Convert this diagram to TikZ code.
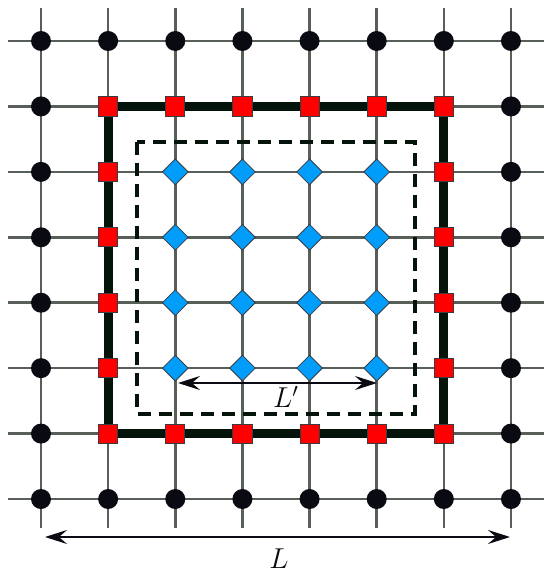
\documentclass[tikz,border=0pt]{standalone}
\usetikzlibrary{arrows.meta,calc,shapes.geometric}
\definecolor{Grid}{RGB}{88,94,88}
\definecolor{Site}{RGB}{10,10,18}
\definecolor{Wall}{RGB}{5,20,10}
\definecolor{Bnd}{RGB}{255,0,0}
\definecolor{Inn}{RGB}{0,158,250}
\tikzset{
  gline/.style={draw=Grid,line width=1.25pt},
  wline/.style={draw=Wall,line width=4.6pt},
  dline/.style={draw=Wall,line width=2.2pt,dash pattern=on 6.5pt off 4pt},
  dsite/.style={circle,fill=Site,minimum size=10pt,inner sep=0pt},
  bsite/.style={rectangle,draw=Site!80,fill=Bnd,minimum size=9.6pt,inner sep=0pt,line width=0.4pt},
  isite/.style={diamond,draw=Site!80,fill=Inn,minimum size=13pt,inner sep=0pt,line width=0.4pt},
  larr/.style={{Stealth[length=11pt,width=7pt,inset=4pt]}-{Stealth[length=11pt,width=7pt,inset=4pt]},line width=1pt,draw=Site},
  llab/.style={font=\fontsize{14}{16}\selectfont,text=Site,inner sep=0pt}
}
\begin{document}
\begin{tikzpicture}[x=0.5pt,y=-0.5pt]
\useasboundingbox (0,0) rectangle (544,572);
% lattice points
\foreach \i in {0,...,7}
  \foreach \j in {0,...,7}
    \coordinate (p-\i-\j) at ({41+67.14*\i},{41+65.43*\j});
% grid lines
\foreach \k in {0,...,7} {
  \draw[gline] ($(p-0-\k)+(-33,0)$) -- ($(p-7-\k)+(33,0)$);
  \draw[gline] ($(p-\k-0)+(0,-33)$) -- ($(p-\k-7)+(0,29)$);
}
% boundary and dashed box
\draw[wline] (p-1-1) rectangle (p-6-6);
\coordinate (box-nw) at (137,142);
\coordinate (box-se) at (415,414);
\draw[dline] (box-nw) rectangle (box-se);
% sites
\foreach \i in {0,...,7} {
  \node[dsite] (s-\i-0) at (p-\i-0) {};
  \node[dsite] (s-\i-7) at (p-\i-7) {};
}
\foreach \j in {1,...,6} {
  \node[dsite] (s-0-\j) at (p-0-\j) {};
  \node[dsite] (s-7-\j) at (p-7-\j) {};
}
\foreach \i in {1,...,6} {
  \node[bsite] (s-\i-1) at (p-\i-1) {};
  \node[bsite] (s-\i-6) at (p-\i-6) {};
}
\foreach \j in {2,...,5} {
  \node[bsite] (s-1-\j) at (p-1-\j) {};
  \node[bsite] (s-6-\j) at (p-6-\j) {};
}
\foreach \i in {2,...,5}
  \foreach \j in {2,...,5}
    \node[isite] (s-\i-\j) at (p-\i-\j) {};
% lengths
\coordinate (Lw) at (45,537);
\coordinate (Le) at (510,537);
\draw[larr] (Lw) -- (Le);
\node[llab] (Llab) at (279,559) {$L$};
\coordinate (Kw) at (178,383);
\coordinate (Ke) at (377,383);
\draw[larr] (Kw) -- (Ke);
\node[llab] (Klab) at (286,397) {$L'$};
\end{tikzpicture}
\end{document}
